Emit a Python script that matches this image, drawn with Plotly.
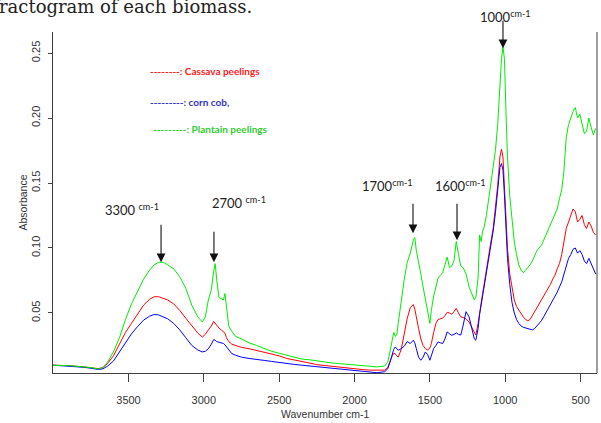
import plotly.graph_objects as go

# ---------------- data ----------------
wavenumber = [4000, 3900, 3800, 3750, 3700, 3670, 3640, 3600, 3560, 3520, 3480, 3440, 3400, 3360, 3330,
              3300, 3270, 3240, 3200, 3160, 3120, 3080, 3040, 3010, 2990, 2970, 2950, 2935, 2925, 2915,
              2900, 2885, 2870, 2860, 2850, 2835, 2815, 2790, 2750, 2700, 2650, 2600, 2550, 2500, 2450,
              2400, 2350, 2300, 2250, 2200, 2150, 2100, 2050, 2000, 1950, 1900, 1850, 1800, 1780, 1765,
              1750, 1740, 1730, 1720, 1710, 1690, 1670, 1650, 1630, 1610, 1600, 1590, 1575, 1560, 1545,
              1530, 1515, 1500, 1490, 1475, 1460, 1445, 1430, 1415, 1400, 1385, 1370, 1355, 1340, 1325,
              1310, 1295, 1280, 1260, 1240, 1220, 1205, 1195, 1180, 1170, 1160, 1150, 1140, 1125, 1110,
              1095, 1080, 1065, 1050, 1035, 1025, 1015, 1005, 995, 985, 970, 955, 940, 925, 910,
              895, 880, 865, 850, 835, 820, 805, 790, 775, 760, 745, 730, 715, 700, 685,
              670, 655, 640, 625, 610, 595, 580, 565, 550, 535, 520, 505, 490, 475, 460,
              445, 430, 415, 400]

plantain = [0.0097, 0.0095, 0.0085, 0.0080, 0.0068, 0.0080, 0.0120, 0.0200, 0.0310, 0.0450, 0.0570, 0.0660, 0.0760, 0.0830, 0.0870,
            0.0890, 0.0890, 0.0870, 0.0840, 0.0780, 0.0690, 0.0560, 0.0470, 0.0430, 0.0470, 0.0600, 0.0680, 0.0820, 0.0880, 0.0760,
            0.0620, 0.0610, 0.0600, 0.0650, 0.0560, 0.0400, 0.0360, 0.0320, 0.0300, 0.0270, 0.0250, 0.0225, 0.0205, 0.0190, 0.0175,
            0.0160, 0.0145, 0.0140, 0.0130, 0.0125, 0.0115, 0.0110, 0.0105, 0.0098, 0.0090, 0.0085, 0.0085, 0.0092, 0.0120, 0.0200,
            0.0310, 0.0350, 0.0320, 0.0330, 0.0420, 0.0600, 0.0760, 0.0890, 0.0960, 0.1060, 0.1080, 0.0980, 0.0900, 0.0800, 0.0700,
            0.0600, 0.0500, 0.0420, 0.0520, 0.0630, 0.0700, 0.0770, 0.0790, 0.0810, 0.0870, 0.0930, 0.0850, 0.0860, 0.0900, 0.1050,
            0.0950, 0.0860, 0.0850, 0.0800, 0.0700, 0.0640, 0.0600, 0.0620, 0.0770, 0.1100, 0.1050, 0.1130, 0.1160, 0.1250, 0.1380,
            0.1500, 0.1600, 0.1750, 0.1950, 0.2250, 0.2450, 0.2550, 0.2450, 0.2050, 0.1700, 0.1400, 0.1200, 0.1050, 0.0950, 0.0870,
            0.0830, 0.0810, 0.0830, 0.0850, 0.0870, 0.0900, 0.0940, 0.0980, 0.1000, 0.1020, 0.1060, 0.1100, 0.1130, 0.1170, 0.1210,
            0.1260, 0.1300, 0.1380, 0.1450, 0.1600, 0.1850, 0.1950, 0.2000, 0.2050, 0.2080, 0.2000, 0.2030, 0.1950, 0.1880, 0.1900,
            0.2000, 0.1930, 0.1870, 0.1920]

cassava = [0.0098, 0.0095, 0.0085, 0.0078, 0.0072, 0.0080, 0.0110, 0.0170, 0.0260, 0.0350, 0.0420, 0.0490, 0.0560, 0.0605, 0.0625,
           0.0625, 0.0615, 0.0600, 0.0570, 0.0520, 0.0460, 0.0400, 0.0345, 0.0315, 0.0335, 0.0370, 0.0400, 0.0435, 0.0420, 0.0400,
           0.0385, 0.0370, 0.0355, 0.0345, 0.0310, 0.0280, 0.0260, 0.0250, 0.0235, 0.0225, 0.0212, 0.0198, 0.0185, 0.0170, 0.0150,
           0.0140, 0.0125, 0.0115, 0.0102, 0.0095, 0.0092, 0.0085, 0.0078, 0.0072, 0.0065, 0.0060, 0.0058, 0.0060, 0.0080, 0.0130,
           0.0170, 0.0190, 0.0185, 0.0170, 0.0160, 0.0220, 0.0340, 0.0460, 0.0540, 0.0565, 0.0530, 0.0480, 0.0380, 0.0300, 0.0250,
           0.0225, 0.0215, 0.0230, 0.0265, 0.0350, 0.0420, 0.0450, 0.0455, 0.0460, 0.0480, 0.0505, 0.0500, 0.0490, 0.0510, 0.0535,
           0.0500, 0.0470, 0.0465, 0.0455, 0.0430, 0.0385, 0.0340, 0.0330, 0.0420, 0.0510, 0.0580, 0.0650, 0.0720, 0.0840, 0.0950,
           0.1050, 0.1150, 0.1300, 0.1480, 0.1700, 0.1760, 0.1700, 0.1500, 0.1250, 0.1000, 0.0800, 0.0680, 0.0600, 0.0550, 0.0520,
           0.0490, 0.0470, 0.0450, 0.0440, 0.0450, 0.0480, 0.0500, 0.0530, 0.0560, 0.0590, 0.0620, 0.0650, 0.0680, 0.0720, 0.0760,
           0.0790, 0.0840, 0.0880, 0.0950, 0.1050, 0.1150, 0.1200, 0.1250, 0.1300, 0.1280, 0.1200, 0.1220, 0.1250, 0.1180, 0.1150,
           0.1200, 0.1170, 0.1120, 0.1100]

corn_cob = [0.0098, 0.0092, 0.0082, 0.0075, 0.0065, 0.0070, 0.0090, 0.0130, 0.0200, 0.0270, 0.0340, 0.0395, 0.0445, 0.0475, 0.0488,
            0.0485, 0.0470, 0.0455, 0.0420, 0.0370, 0.0310, 0.0250, 0.0215, 0.0200, 0.0205, 0.0225, 0.0260, 0.0295, 0.0290, 0.0280,
            0.0275, 0.0272, 0.0265, 0.0255, 0.0240, 0.0210, 0.0188, 0.0175, 0.0160, 0.0150, 0.0145, 0.0135, 0.0127, 0.0118, 0.0110,
            0.0104, 0.0098, 0.0092, 0.0086, 0.0080, 0.0074, 0.0070, 0.0064, 0.0058, 0.0050, 0.0045, 0.0040, 0.0048, 0.0070, 0.0120,
            0.0185, 0.0220, 0.0238, 0.0225, 0.0213, 0.0225, 0.0245, 0.0280, 0.0265, 0.0290, 0.0270, 0.0225, 0.0160, 0.0136, 0.0160,
            0.0200, 0.0180, 0.0136, 0.0180, 0.0226, 0.0250, 0.0277, 0.0270, 0.0265, 0.0300, 0.0354, 0.0340, 0.0328, 0.0335, 0.0346,
            0.0335, 0.0330, 0.0400, 0.0510, 0.0470, 0.0380, 0.0300, 0.0290, 0.0380, 0.0490, 0.0560, 0.0630, 0.0700, 0.0820, 0.0930,
            0.1030, 0.1130, 0.1270, 0.1430, 0.1620, 0.1650, 0.1600, 0.1400, 0.1150, 0.0920, 0.0720, 0.0580, 0.0500, 0.0450, 0.0420,
            0.0400, 0.0390, 0.0385, 0.0380, 0.0375, 0.0370, 0.0380, 0.0400, 0.0420, 0.0440, 0.0470, 0.0500, 0.0530, 0.0560, 0.0590,
            0.0620, 0.0660, 0.0700, 0.0740, 0.0800, 0.0870, 0.0920, 0.0950, 0.0990, 0.1000, 0.0960, 0.0980, 0.0950, 0.0900, 0.0880,
            0.0920, 0.0880, 0.0830, 0.0800]

x_ticks = [3500, 3000, 2500, 2000, 1500, 1000, 500]
y_ticks = [0.05, 0.10, 0.15, 0.20, 0.25]
y_tick_text = ["0.05", "0.10", "0.15", "0.20", "0.25"]

legend_labels = ["--------: Cassava peelings", "---------: corn cob,", "---------: Plantain peelings"]
peak_labels = ["3300", "2700", "1700", "1600", "1000"]
peak_wn = [3284, 2933, 1612, 1320, 1015]
peak_abs = [0.089, 0.089, 0.1113, 0.106, 0.2536]

# ---------------- layout geometry (pixels) ----------------
W, H = 601, 423
PL, PR, PT, PB = 53, 597, 32, 373


def px(x):
    return (x - PL) / (PR - PL)


def py(y):
    return (PB - y) / (PB - PT)


fig = go.Figure()
series = [("Cassava peelings", cassava, "#ff0000"),
          ("corn cob", corn_cob, "#0000ff"),
          ("Plantain peelings", plantain, "#00ee00")]
for name, vals, col in series:
    fig.add_trace(go.Scatter(x=wavenumber, y=vals, mode="lines", name=name,
                             line=dict(color=col, width=1), showlegend=False))

axis_col = "#404040"
fig.update_layout(
    width=W, height=H,
    margin=dict(l=PL, r=W - PR, t=PT, b=H - PB, pad=0),
    plot_bgcolor="white", paper_bgcolor="white",
    font=dict(family="Liberation Sans, Arial, sans-serif", size=11, color="#333333"),
    xaxis=dict(range=[4001, 391], tickvals=x_ticks, ticks="outside", ticklen=8,
               tickcolor=axis_col, showline=True, linecolor=axis_col, linewidth=1,
               showgrid=False, zeroline=False, ticklabelstandoff=9,
               tickfont=dict(size=11, color="#333333")),
    yaxis=dict(range=[0.0038, 0.2662], tickvals=y_ticks, ticktext=y_tick_text,
               ticks="outside", ticklen=4, tickangle=-90, tickcolor=axis_col,
               showline=True, linecolor=axis_col, linewidth=1, showgrid=False,
               zeroline=False, ticklabelstandoff=4,
               tickfont=dict(size=11, color="#333333")),
)

# right border
fig.add_shape(type="line", xref="paper", yref="paper", x0=1, x1=1, y0=0, y1=1,
              line=dict(color=axis_col, width=1))

ann = []
# axis titles
ann.append(dict(text="Wavenumber cm-1", xref="paper", yref="paper", x=0.5, y=py(414),
                xanchor="center", yanchor="middle", showarrow=False,
                font=dict(size=10.5, color="#333333")))
ann.append(dict(text="Absorbance", xref="paper", yref="paper", x=px(22), y=0.5,
                xanchor="center", yanchor="middle", textangle=-90, showarrow=False,
                font=dict(size=10.5, color="#333333")))

# legend-like text
leg_cols = ["#ff2020", "#3333cc", "#33cc33"]
leg_pos = [(148, 71), (148, 102), (151, 129)]
for t, c, (lx, ly) in zip(legend_labels, leg_cols, leg_pos):
    ann.append(dict(text="<b>" + t + "</b>", xref="paper", yref="paper", x=px(lx), y=py(ly),
                    xanchor="left", yanchor="middle", showarrow=False,
                    font=dict(family="Lato, Open Sans, sans-serif", size=10, color=c)))

# peak labels
lab_pos = [(103, 209, " "), (210, 202, " "), (360, 185, ""), (433, 185, ""), (478, 16, "")]
for t, (lx, ly, sp) in zip(peak_labels, lab_pos):
    ann.append(dict(text=t + sp + "<sup>cm-1</sup>", xref="paper", yref="paper", x=px(lx), y=py(ly),
                    xanchor="left", yanchor="middle", showarrow=False,
                    font=dict(family="Lato, Open Sans, sans-serif", size=13, color="#222222")))

# arrows
arrow_len = [39, 32, 31, 38, 29]
for wx, ay_, L in zip(peak_wn, peak_abs, arrow_len):
    ann.append(dict(text="", x=wx, y=ay_, xref="x", yref="y", showarrow=True,
                    ax=0, ay=-L, axref="pixel", ayref="pixel",
                    arrowhead=2, arrowsize=1.6, arrowwidth=1.1, arrowcolor="#111111",
                    standoff=0))

# cut-off document text above the chart
ann.append(dict(text="Diffractogram of each biomass.", xref="paper", yref="paper",
                x=px(254), y=py(6), xanchor="right", yanchor="middle", showarrow=False,
                font=dict(family="DejaVu Serif, serif", size=18, color="#222222")))

fig.update_layout(annotations=ann)
fig.write_html("out.html")
